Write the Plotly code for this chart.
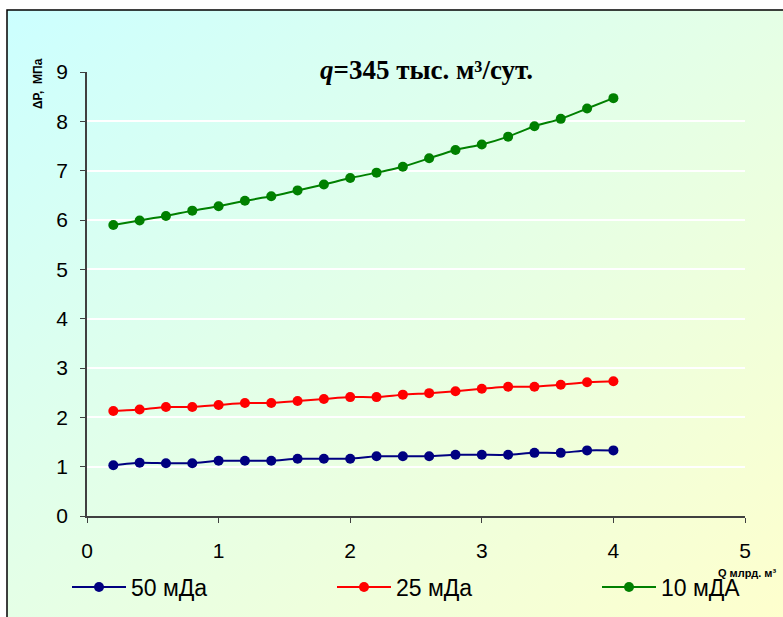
import plotly.graph_objects as go
import urllib.parse

# ---- data ----
q_values = [0.2, 0.4, 0.6, 0.8, 1.0, 1.2, 1.4, 1.6, 1.8, 2.0,
            2.2, 2.4, 2.6, 2.8, 3.0, 3.2, 3.4, 3.6, 3.8, 4.0]
dp_50 = [1.03, 1.08, 1.07, 1.07, 1.12, 1.12, 1.12, 1.16, 1.16, 1.16,
         1.21, 1.21, 1.21, 1.24, 1.24, 1.24, 1.28, 1.28, 1.33, 1.33]
dp_25 = [2.13, 2.16, 2.21, 2.21, 2.25, 2.29, 2.29, 2.33, 2.37, 2.41,
         2.41, 2.46, 2.49, 2.53, 2.58, 2.62, 2.62, 2.66, 2.71, 2.73]
dp_10 = [5.90, 5.99, 6.08, 6.19, 6.28, 6.39, 6.48, 6.60, 6.72, 6.85,
         6.96, 7.08, 7.25, 7.42, 7.53, 7.69, 7.90, 8.05, 8.26, 8.47]
series_names = ["50 мДа", "25 мДа", "10 мДА"]
series_colors = ["#000080", "#FF0000", "#008000"]
x_ticks = [0, 1, 2, 3, 4, 5]
y_ticks = [0, 1, 2, 3, 4, 5, 6, 7, 8, 9]

W, H = 783, 617
ML, MR, MT, MB = 87, 38, 72, 101
PW, PH = W - ML - MR, H - MT - MB


def px_x(p):
    return (p - ML) / PW


def px_y(p):
    return (H - MB - p) / PH


legend_ids = ["legend", "legend2", "legend3"]
legend_px = [72, 337, 602]

fig = go.Figure()
for name, color, ys, lid in zip(series_names, series_colors,
                                [dp_50, dp_25, dp_10], legend_ids):
    fig.add_trace(go.Scatter(
        x=q_values, y=ys, name=name, mode="lines+markers",
        line=dict(color=color, width=2, shape="spline", smoothing=0.6),
        marker=dict(color=color, size=10),
        legend=lid,
    ))

svg = ('<svg xmlns="http://www.w3.org/2000/svg" width="100" height="100" '
       'preserveAspectRatio="none" viewBox="0 0 100 100">'
       '<defs><linearGradient id="g" x1="0" y1="0" x2="1" y2="1">'
       '<stop offset="0" stop-color="#CCFFFF"/>'
       '<stop offset="1" stop-color="#FFFFCC"/>'
       '</linearGradient></defs>'
       '<rect width="100" height="100" fill="url(#g)"/></svg>')
src = "data:image/svg+xml;charset=utf-8," + urllib.parse.quote(svg)

x0, x1 = px_x(7), px_x(800)
y0, y1 = px_y(630), px_y(10)

fig.add_layout_image(dict(
    source=src, xref="paper", yref="paper", x=x0, y=y1,
    sizex=x1 - x0, sizey=y1 - y0, sizing="stretch",
    xanchor="left", yanchor="top", layer="below",
))

fig.add_shape(type="rect", xref="paper", yref="paper",
              x0=x0, x1=x1 + 0.05, y0=y0 - 0.05, y1=y1,
              line=dict(color="#000000", width=1.5),
              fillcolor="rgba(0,0,0,0)")

fig.add_annotation(
    text="<b><i>q</i>=345 тыс. м³/сут.</b>",
    xref="paper", yref="paper", x=px_x(426), y=px_y(70),
    xanchor="center", yanchor="middle", showarrow=False,
    font=dict(family="Liberation Serif, Times New Roman, serif", size=27, color="#000"),
)
fig.add_annotation(
    text="<b>ΔP,&nbsp; МПа</b>", textangle=-90,
    xref="paper", yref="paper", x=px_x(38), y=px_y(84),
    xanchor="center", yanchor="middle", showarrow=False,
    font=dict(family="Arial, Liberation Sans, sans-serif", size=12, color="#000"),
)
fig.add_annotation(
    text="<b>Q млрд. м³</b>",
    xref="paper", yref="paper", x=px_x(716), y=px_y(573),
    xanchor="left", yanchor="middle", showarrow=False,
    font=dict(family="Arial, Liberation Sans, sans-serif", size=11, color="#000"),
)

legend_common = dict(
    orientation="h", yanchor="middle", xanchor="left",
    bgcolor="rgba(0,0,0,0)", borderwidth=0,
    font=dict(size=23, family="Arial, Liberation Sans, sans-serif", color="#000"),
    itemwidth=54,
)

fig.update_layout(
    width=W, height=H,
    margin=dict(l=ML, r=MR, t=MT, b=MB, pad=0, autoexpand=False),
    paper_bgcolor="#FFFFFF", plot_bgcolor="rgba(0,0,0,0)",
    font=dict(family="Arial, Liberation Sans, sans-serif", size=21, color="#000"),
    showlegend=True,
    legend=dict(x=px_x(legend_px[0] - 5), y=px_y(587), **legend_common),
    legend2=dict(x=px_x(legend_px[1] - 5), y=px_y(587), **legend_common),
    legend3=dict(x=px_x(legend_px[2] - 5), y=px_y(587), **legend_common),
    xaxis=dict(
        range=[0, 5], tickvals=x_ticks, showgrid=False, zeroline=False,
        showline=True, linecolor="#404040", linewidth=1.5,
        ticks="outside", ticklen=5, tickcolor="#404040", ticklabelstandoff=10,
        fixedrange=True,
    ),
    yaxis=dict(
        range=[0, 9], tickvals=y_ticks, showgrid=True, gridcolor="#FFFFFF",
        gridwidth=1.5, zeroline=False,
        showline=True, linecolor="#404040", linewidth=1.5,
        ticks="outside", ticklen=5, tickcolor="#404040", ticklabelstandoff=8,
        fixedrange=True,
    ),
)

fig.write_html("out.html",
               config={"displayModeBar": False},
               post_script="document.body.style.margin='0';"
                           "document.body.style.overflow='hidden';")
